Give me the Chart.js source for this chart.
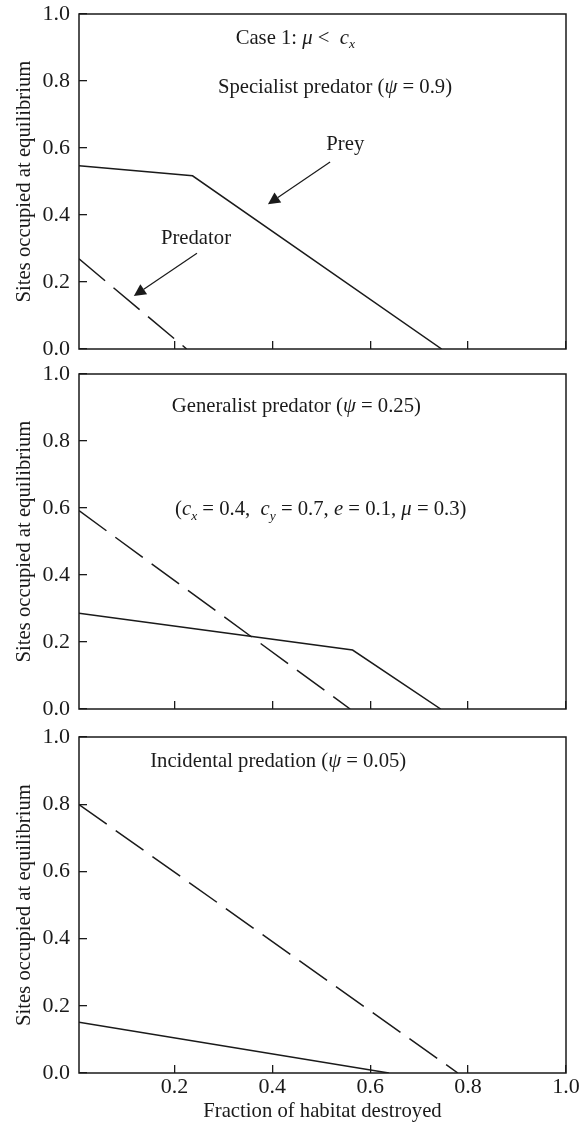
<!DOCTYPE html>
<html>
<head>
<meta charset="utf-8">
<script src="https://cdn.jsdelivr.net/npm/chart.js@4.4.1/dist/chart.umd.min.js"></script>
<style>
  html, body { margin: 0; padding: 0; background: #fff; }
  canvas { display: block; }
</style>
</head>
<body>
<canvas id="c1" width="579" height="362"></canvas>
<canvas id="c2" width="579" height="360"></canvas>
<canvas id="c3" width="579" height="411"></canvas>
<script>
var xTicks = [0.2, 0.4, 0.6, 0.8, 1.0];
var yTicks = [0.0, 0.2, 0.4, 0.6, 0.8, 1.0];

// panel 1 - specialist predator
var prey1X = [0.005, 0.237, 0.746];
var prey1Y = [0.547, 0.517, 0.0];
var pred1X = [0.005, 0.225];
var pred1Y = [0.269, 0.0];

// panel 2 - generalist predator
var prey2X = [0.005, 0.564, 0.744];
var prey2Y = [0.286, 0.176, 0.0];
var pred2X = [0.005, 0.559];
var pred2Y = [0.592, 0.0];

// panel 3 - incidental predation
var prey3X = [0.005, 0.638];
var prey3Y = [0.151, 0.0];
var pred3X = [0.005, 0.779];
var pred3Y = [0.799, 0.0];

var SERIF = "'Liberation Serif', 'Times New Roman', serif";
var INK   = '#1a1a1a';

Chart.defaults.font.family = SERIF;
Chart.defaults.font.size   = 20.7;
Chart.defaults.color       = INK;

function pts(xs, ys) {
  return xs.map(function (x, i) { return { x: x, y: ys[i] }; });
}

function fmt(v) { return Number(v).toFixed(1); }

var framePlugin = {
  id: 'frame',
  afterDraw: function (chart) {
    var a = chart.chartArea, ctx = chart.ctx;
    ctx.save();
    ctx.strokeStyle = INK;
    ctx.lineWidth = 1.5;
    ctx.strokeRect(a.left, a.top, a.right - a.left, a.bottom - a.top);
    ctx.restore();
  }
};

function runFont(style) {
  if (style === 'sub') return 'italic 13.5px ' + SERIF;
  if (style === 'i') return 'italic 20.7px ' + SERIF;
  return '20.7px ' + SERIF;
}

// draw mixed roman / italic / subscript text centred on cx
function drawRuns(ctx, runs, cx, cy) {
  var total = 0;
  runs.forEach(function (r) { ctx.font = runFont(r[1]); total += ctx.measureText(r[0]).width; });
  var x = cx - total / 2;
  runs.forEach(function (r) {
    ctx.font = runFont(r[1]);
    ctx.fillText(r[0], x, cy + (r[1] === 'sub' ? 6 : 0));
    x += ctx.measureText(r[0]).width;
  });
}

function drawArrow(ctx, x1, y1, x2, y2) {
  var ang = Math.atan2(y2 - y1, x2 - x1), len = 12, half = 6;
  var bx = x2 - len * Math.cos(ang), by = y2 - len * Math.sin(ang);
  ctx.beginPath();
  ctx.moveTo(x1, y1);
  ctx.lineTo(bx, by);
  ctx.stroke();
  ctx.beginPath();
  ctx.moveTo(x2, y2);
  ctx.lineTo(bx + half * Math.sin(ang), by - half * Math.cos(ang));
  ctx.lineTo(bx - half * Math.sin(ang), by + half * Math.cos(ang));
  ctx.closePath();
  ctx.fill();
}

var notesPlugin = {
  id: 'notes',
  afterDraw: function (chart, args, opts) {
    var ctx = chart.ctx, sx = chart.scales.x, sy = chart.scales.y;
    ctx.save();
    ctx.fillStyle = INK;
    ctx.strokeStyle = INK;
    ctx.lineWidth = 1.2;
    ctx.textBaseline = 'middle';
    ctx.textAlign = 'left';
    (opts.texts || []).forEach(function (t) {
      drawRuns(ctx, t.runs, sx.getPixelForValue(t.x), sy.getPixelForValue(t.y));
    });
    (opts.arrows || []).forEach(function (a) {
      drawArrow(ctx, sx.getPixelForValue(a[0]), sy.getPixelForValue(a[1]),
                     sx.getPixelForValue(a[2]), sy.getPixelForValue(a[3]));
    });
    ctx.restore();
  }
};

function makeChart(id, preyPts, predPts, cfg) {
  var grid = { drawOnChartArea: false, drawTicks: true, tickLength: -8, color: INK, lineWidth: 1.3 };
  return new Chart(document.getElementById(id), {
    type: 'line',
    data: {
      datasets: [{
        label: 'Prey',
        data: preyPts,
        borderColor: INK,
        borderWidth: 1.5,
        pointRadius: 0,
        tension: 0,
        fill: false
      }, {
        label: 'Predator',
        data: predPts,
        borderColor: INK,
        borderWidth: 1.5,
        borderDash: [34, 11],
        pointRadius: 0,
        tension: 0,
        fill: false
      }]
    },
    options: {
      responsive: false,
      animation: false,
      events: [],
      layout: { padding: { top: cfg.top, right: 13, left: 0, bottom: 0 } },
      plugins: {
        legend: { display: false },
        tooltip: { enabled: false },
        notes: cfg.notes
      },
      scales: {
        x: {
          type: 'linear', min: 0.005, max: 1.0,
          afterBuildTicks: function (s) { s.ticks = xTicks.map(function (v) { return { value: v }; }); },
          afterFit: function (s) { s.height = cfg.xHeight; s.paddingLeft = 0; s.paddingRight = 0; },
          grid: grid,
          border: { display: false },
          ticks: { display: cfg.xLabels, padding: 9, maxRotation: 0, autoSkip: false, callback: fmt, font: { size: 22 } },
          title: { display: cfg.xLabels, text: 'Fraction of habitat destroyed', padding: { top: 0, bottom: 9 } }
        },
        y: {
          type: 'linear', min: 0, max: 1,
          afterBuildTicks: function (s) { s.ticks = yTicks.map(function (v) { return { value: v }; }); },
          afterFit: function (s) { s.width = 79; s.paddingTop = 0; s.paddingBottom = 0; },
          grid: grid,
          border: { display: false },
          ticks: { padding: 17, callback: fmt, font: { size: 22 } },
          title: { display: true, text: 'Sites occupied at equilibrium', padding: { top: 12, bottom: 0 } }
        }
      }
    },
    plugins: [framePlugin, notesPlugin]
  });
}

makeChart('c1', pts(prey1X, prey1Y), pts(pred1X, pred1Y), {
  top: 14, xHeight: 13, xLabels: false,
  notes: {
    texts: [
      { x: 0.447, y: 0.928, runs: [['Case 1: ', ''], ['\u03bc', 'i'], [' <  ', ''], ['c', 'i'], ['x', 'sub']] },
      { x: 0.528, y: 0.779, runs: [['Specialist predator (', ''], ['\u03c8', 'i'], [' = 0.9)', '']] },
      { x: 0.549, y: 0.609, runs: [['Prey', '']] },
      { x: 0.244, y: 0.331, runs: [['Predator', '']] }
    ],
    arrows: [[0.518, 0.558, 0.391, 0.432], [0.246, 0.286, 0.117, 0.158]]
  }
});

makeChart('c2', pts(prey2X, prey2Y), pts(pred2X, pred2Y), {
  top: 12, xHeight: 13, xLabels: false,
  notes: {
    texts: [
      { x: 0.449, y: 0.902, runs: [['Generalist predator (', ''], ['\u03c8', 'i'], [' = 0.25)', '']] },
      { x: 0.499, y: 0.594, runs: [['(', ''], ['c', 'i'], ['x', 'sub'], [' = 0.4,  ', ''], ['c', 'i'], ['y', 'sub'],
                                   [' = 0.7, ', ''], ['e', 'i'], [' = 0.1, ', ''], ['\u03bc', 'i'], [' = 0.3)', '']] }
    ],
    arrows: []
  }
});

makeChart('c3', pts(prey3X, prey3Y), pts(pred3X, pred3Y), {
  top: 15, xHeight: 60, xLabels: true,
  notes: {
    texts: [
      { x: 0.412, y: 0.927, runs: [['Incidental predation (', ''], ['\u03c8', 'i'], [' = 0.05)', '']] }
    ],
    arrows: []
  }
});
</script>
</body>
</html>
